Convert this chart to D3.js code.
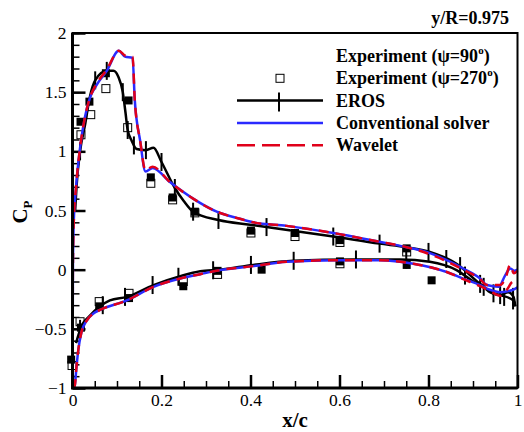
<!DOCTYPE html>
<html>
<head>
<meta charset="utf-8">
<script src="https://cdn.jsdelivr.net/npm/d3@7"></script>
<style>
  body { margin: 0; background: #fff; }
  svg { display: block; font-family: "Liberation Serif", "Times New Roman", serif; }
</style>
</head>
<body>
<svg></svg>
<script>
// ---- data ----
const convUpper = [[0,-0.95],[0.001,0.05],[0.003,0.42],[0.008,0.70],[0.017,1.03],[0.028,1.29],[0.039,1.45],[0.054,1.56],[0.077,1.68],[0.104,1.85],[0.118,1.80],[0.135,1.79],[0.140,1.43],[0.152,1.09],[0.164,0.83],[0.180,0.86],[0.219,0.74],[0.271,0.60],[0.324,0.49],[0.376,0.43],[0.406,0.40],[0.481,0.37],[0.586,0.31],[0.684,0.24],[0.751,0.19],[0.803,0.14],[0.841,0.08],[0.878,0.01],[0.916,-0.075],[0.931,-0.13],[0.958,-0.145],[0.972,-0.05],[0.984,0.01],[0.993,-0.01],[1.0,0.0]];
const convLower = [[0,-1.0],[0.005,-0.98],[0.009,-0.82],[0.013,-0.68],[0.02,-0.53],[0.032,-0.43],[0.047,-0.37],[0.062,-0.34],[0.122,-0.26],[0.182,-0.145],[0.242,-0.075],[0.287,-0.038],[0.331,-0.004],[0.406,0.03],[0.481,0.066],[0.594,0.08],[0.691,0.08],[0.766,0.05],[0.841,-0.02],[0.878,-0.075],[0.916,-0.13],[0.938,-0.17],[0.961,-0.19],[0.99,-0.17],[1.0,-0.15]];
const waveUpper = [[0,-0.95],[0.001,0.05],[0.003,0.42],[0.008,0.70],[0.017,1.03],[0.028,1.29],[0.039,1.45],[0.054,1.57],[0.077,1.69],[0.104,1.85],[0.118,1.81],[0.135,1.80],[0.140,1.43],[0.152,1.09],[0.164,0.84],[0.180,0.87],[0.219,0.74],[0.271,0.60],[0.324,0.49],[0.376,0.43],[0.406,0.40],[0.481,0.37],[0.586,0.31],[0.684,0.24],[0.751,0.19],[0.803,0.13],[0.841,0.07],[0.878,0.0],[0.916,-0.08],[0.931,-0.13],[0.961,-0.13],[0.975,-0.05],[0.983,0.04],[0.992,-0.03],[1.0,-0.01]];
const waveLower = [[0,-1.0],[0.005,-0.98],[0.009,-0.82],[0.013,-0.68],[0.02,-0.53],[0.032,-0.43],[0.047,-0.37],[0.062,-0.34],[0.122,-0.26],[0.182,-0.145],[0.242,-0.075],[0.287,-0.038],[0.331,-0.004],[0.406,0.03],[0.481,0.066],[0.594,0.08],[0.691,0.08],[0.766,0.05],[0.841,-0.02],[0.878,-0.08],[0.916,-0.14],[0.938,-0.18],[0.961,-0.22],[0.976,-0.17],[0.99,-0.10],[1.0,-0.12]];
const erosUpper = [[0.006,0.5],[0.009,0.70],[0.017,1.0],[0.028,1.22],[0.039,1.46],[0.051,1.60],[0.077,1.68],[0.092,1.68],[0.103,1.63],[0.113,1.50],[0.119,1.33],[0.124,1.18],[0.133,1.09],[0.144,1.02],[0.165,1.01],[0.182,1.03],[0.200,0.91],[0.230,0.69],[0.250,0.58],[0.271,0.49],[0.328,0.42],[0.399,0.38],[0.436,0.36],[0.586,0.28],[0.690,0.22],[0.751,0.19],[0.803,0.15],[0.863,0.05],[0.916,-0.12],[0.946,-0.20],[0.961,-0.215],[0.979,-0.19],[0.991,-0.23],[0.995,-0.31]];
const erosLower = [[0.008,-0.62],[0.021,-0.47],[0.036,-0.40],[0.062,-0.31],[0.084,-0.26],[0.122,-0.23],[0.182,-0.13],[0.242,-0.055],[0.287,-0.013],[0.331,0.0],[0.406,0.04],[0.496,0.075],[0.631,0.086],[0.736,0.086],[0.803,0.066],[0.863,-0.004],[0.901,-0.10],[0.924,-0.145],[0.938,-0.19],[0.961,-0.215],[0.991,-0.26],[0.995,-0.31]];
const erosBars = [[0.017,1.0],[0.051,1.60],[0.077,1.68],[0.113,1.50],[0.124,1.18],[0.138,1.05],[0.165,1.01],[0.20,0.91],[0.23,0.69],[0.271,0.49],[0.328,0.42],[0.436,0.36],[0.586,0.28],[0.69,0.22],[0.80,0.15],[0.84,0.09],[0.871,0.03],[0.916,-0.12],[0.946,-0.20],[0.961,-0.215],[0.99,-0.23],
  [0.017,-0.50],[0.068,-0.30],[0.118,-0.23],[0.18,-0.13],[0.238,-0.06],[0.316,-0.005],[0.401,0.04],[0.497,0.075],[0.637,0.086],[0.75,0.085],[0.882,-0.05],[0.924,-0.145],[0.97,-0.23],[0.99,-0.26]];
const exp90 = [[-0.003,-0.76],[0.019,-0.49],[0.06,-0.31],[0.127,-0.24],[0.249,-0.14],[0.326,-0.01],[0.425,0.0],[0.601,0.07],[0.751,0.04],[0.807,-0.09],
  [0.018,1.25],[0.038,1.42],[0.075,1.66],[0.126,1.43],[0.176,0.78],[0.225,0.61],[0.275,0.49],[0.401,0.33],[0.5,0.31],[0.601,0.25],[0.751,0.18]];
const exp270 = [[-0.001,-0.81],[0.017,-0.44],[0.06,-0.27],[0.127,-0.20],[0.249,-0.10],[0.326,-0.04],[0.601,0.05],
  [0.019,1.14],[0.041,1.31],[0.075,1.53],[0.124,1.20],[0.176,0.73],[0.225,0.59],[0.275,0.48],[0.401,0.31],[0.5,0.28],[0.601,0.23],[0.751,0.15]];

const xTicks = [0, 0.2, 0.4, 0.6, 0.8, 1];
const yTicks = [-1, -0.5, 0, 0.5, 1, 1.5, 2];
const legendLabels = ['Experiment (\u03c8=90', 'Experiment (\u03c8=270', 'EROS', 'Conventional solver', 'Wavelet'];
const titleText = 'y/R=0.975';

// ---- layout ----
const [W, H] = [524, 432];
const svg = d3.select('svg').attr('width', W).attr('height', H);
const x = d3.scaleLinear().domain([0, 1]).range([72.5, 517.5]);
const y = d3.scaleLinear().domain([-1, 2]).range([388, 33]);

const line = d3.line()
  .x(d => x(d[0]))
  .y(d => y(d[1]))
  .curve(d3.curveMonotoneX);

// minor ticks
svg.append('g')
  .attr('transform', `translate(0, ${y(-1)})`)
  .call(d3.axisBottom(x).tickValues(d3.range(0, 1.0001, 0.05)).tickSize(-7).tickFormat(''))
  .call(g => g.select('.domain').remove())
  .selectAll('line').attr('stroke-width', 1.5);
svg.append('g')
  .attr('transform', `translate(${x(0)}, 0)`)
  .call(d3.axisLeft(y).tickValues(d3.range(-1, 2.0001, 0.1)).tickSize(-7).tickFormat(''))
  .call(g => g.select('.domain').remove())
  .selectAll('line').attr('stroke-width', 1.5);

// major ticks
svg.append('g')
  .attr('transform', `translate(0, ${y(-1)})`)
  .call(d3.axisBottom(x).tickValues(xTicks).tickSize(-13).tickPadding(6).tickFormat(d3.format('')))
  .call(g => g.select('.domain').remove())
  .call(g => g.selectAll('line').attr('stroke-width', 2.5))
  .call(g => g.selectAll('text').attr('font-size', 17.5).attr('fill', '#000')
    .style('font-family', '"Liberation Serif", "Times New Roman", serif'));
svg.append('g')
  .attr('transform', `translate(${x(0)}, 0)`)
  .call(d3.axisLeft(y).tickValues(yTicks).tickSize(-13).tickPadding(6).tickFormat(d3.format('')))
  .call(g => g.select('.domain').remove())
  .call(g => g.selectAll('line').attr('stroke-width', 2.5))
  .call(g => g.selectAll('text').attr('font-size', 17.5).attr('fill', '#000')
    .style('font-family', '"Liberation Serif", "Times New Roman", serif'));

// experiment squares
svg.append('g').selectAll('rect')
  .data(exp270).join('rect')
  .attr('x', d => x(d[0]) - 4).attr('y', d => y(d[1]) - 4)
  .attr('width', 8).attr('height', 8)
  .attr('fill', '#fff').attr('stroke', '#000').attr('stroke-width', 1);
svg.append('g').selectAll('rect')
  .data(exp90).join('rect')
  .attr('x', d => x(d[0]) - 4).attr('y', d => y(d[1]) - 4)
  .attr('width', 8).attr('height', 8)
  .attr('fill', '#000');

// EROS
[erosUpper, erosLower].forEach(s => {
  svg.append('path').datum(s)
    .attr('d', line).attr('fill', 'none')
    .attr('stroke', '#000').attr('stroke-width', 2.5);
});
svg.append('g').selectAll('line')
  .data(erosBars).join('line')
  .attr('x1', d => x(d[0])).attr('x2', d => x(d[0]))
  .attr('y1', d => y(d[1]) - 9).attr('y2', d => y(d[1]) + 9)
  .attr('stroke', '#000').attr('stroke-width', 2);

// conventional solver + wavelet
[convUpper, convLower].forEach(s => {
  svg.append('path').datum(s)
    .attr('d', line).attr('fill', 'none')
    .attr('stroke', '#2a2aff').attr('stroke-width', 2.5);
});
[waveUpper, waveLower].forEach(s => {
  svg.append('path').datum(s)
    .attr('d', line).attr('fill', 'none')
    .attr('stroke', '#e0001a').attr('stroke-width', 2.5)
    .attr('stroke-dasharray', '10,7');
});

// frame
svg.append('rect')
  .attr('x', x(0)).attr('y', y(2))
  .attr('width', x(1) - x(0)).attr('height', y(-1) - y(2))
  .attr('fill', 'none').attr('stroke', '#000').attr('stroke-width', 2);
svg.append('path')
  .attr('d', `M${x(0)},${y(2)}V${y(-1)}H${x(1)}`)
  .attr('fill', 'none').attr('stroke', '#000').attr('stroke-width', 3);

// axis titles
svg.append('text')
  .attr('x', (x(0) + x(1)) / 2).attr('y', 427)
  .attr('text-anchor', 'middle').attr('font-size', 21).attr('font-weight', 'bold')
  .text('x/c');
const yl = svg.append('text')
  .attr('transform', `translate(27, 212) rotate(-90)`)
  .attr('text-anchor', 'middle').attr('font-size', 21).attr('font-weight', 'bold');
yl.append('tspan').text('C');
yl.append('tspan').attr('font-size', 13).attr('dy', 5).text('P');

svg.append('text')
  .attr('x', 509).attr('y', 24)
  .attr('text-anchor', 'end').attr('font-size', 18).attr('font-weight', 'bold')
  .text(titleText);

// legend
const lg = svg.append('g');
const rowY = i => 56 + i * 22.3;
lg.selectAll('text')
  .data(legendLabels).join('text')
  .attr('x', 336).attr('y', (d, i) => rowY(i) + 6)
  .attr('font-size', 18).attr('font-weight', 'bold')
  .each(function (d, i) {
    const t = d3.select(this);
    t.append('tspan').text(d);
    if (i < 2) {
      t.append('tspan').attr('font-size', 11).attr('dy', -8).text('o');
      t.append('tspan').attr('dy', 8).text(')');
    }
  });
lg.append('rect')
  .attr('x', 276).attr('y', rowY(1) - 4).attr('width', 8).attr('height', 8)
  .attr('fill', '#fff').attr('stroke', '#000').attr('stroke-width', 1);
lg.append('line')
  .attr('x1', 237).attr('x2', 323).attr('y1', rowY(2)).attr('y2', rowY(2))
  .attr('stroke', '#000').attr('stroke-width', 2.5);
lg.append('line')
  .attr('x1', 279).attr('x2', 279).attr('y1', rowY(2) - 8).attr('y2', rowY(2) + 11)
  .attr('stroke', '#000').attr('stroke-width', 2);
lg.append('line')
  .attr('x1', 237).attr('x2', 323).attr('y1', rowY(3)).attr('y2', rowY(3))
  .attr('stroke', '#2a2aff').attr('stroke-width', 2.5);
lg.append('line')
  .attr('x1', 237).attr('x2', 323).attr('y1', rowY(4)).attr('y2', rowY(4))
  .attr('stroke', '#e0001a').attr('stroke-width', 2.5)
  .attr('stroke-dasharray', '18,7');
</script>
</body>
</html>
